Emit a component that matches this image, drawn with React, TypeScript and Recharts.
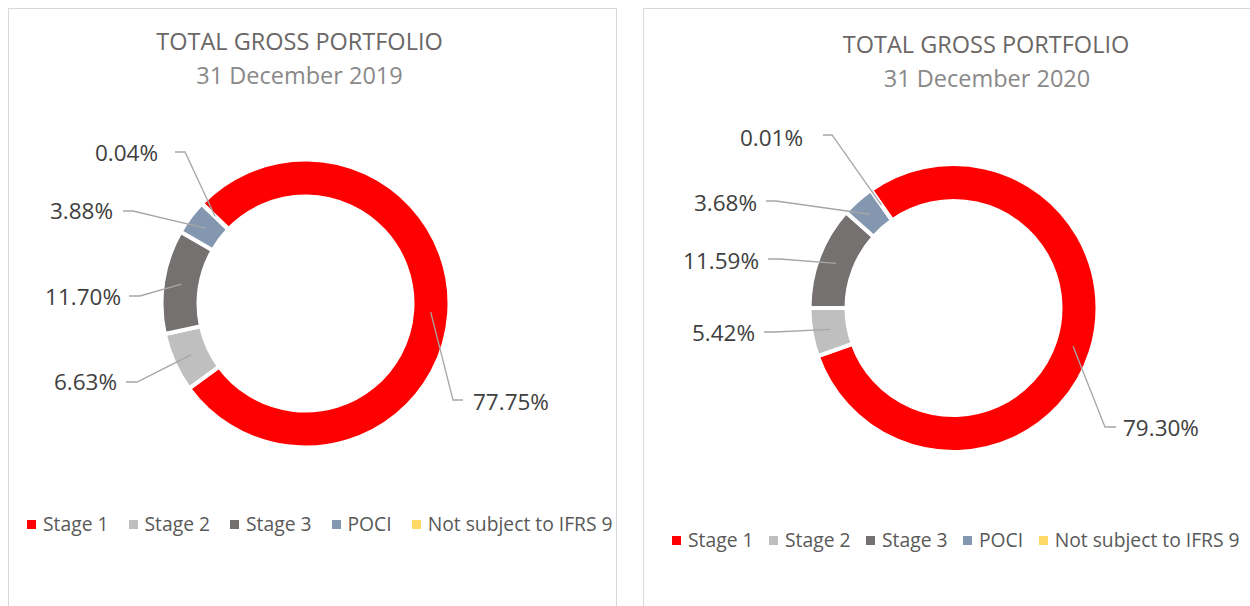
import { PieChart, Pie, Cell, Legend } from 'recharts';

const CATEGORIES = ['Stage 1', 'Stage 2', 'Stage 3', 'POCI', 'Not subject to IFRS 9'];
const VALUES_2019 = [77.75, 6.63, 11.7, 3.88, 0.04];
const VALUES_2020 = [79.3, 5.42, 11.59, 3.68, 0.01];
const COLORS = ['#FF0000', '#BFBFBF', '#767171', '#8497B0', '#FFD966'];
const TITLE = 'TOTAL GROSS PORTFOLIO';
const SUBTITLES = ['31 December 2019', '31 December 2020'];

const FONT = '"Open Sans", "Noto Sans", sans-serif';
const RADIAN = Math.PI / 180;

// leader line elbow / end and label text position, relative to the pie centre
const LABELS_2019 = [
  { ex: 147.5, ey: 96.5, lx: 157.5, tx: 167.5, ty: 98.5 },
  { ex: -168.5, ey: 78.5, lx: -179.5, tx: -188.5, ty: 78.5 },
  { ex: -165.5, ey: -7.5, lx: -176.5, tx: -184.5, ty: -6.5 },
  { ex: -172.5, ey: -92.5, lx: -182.5, tx: -192.5, ty: -92.5 },
  { ex: -120.5, ey: -151.5, lx: -130.5, tx: -147.5, ty: -150.5 },
];
const LABELS_2020 = [
  { ex: 151.5, ey: 119, lx: 162.5, tx: 169.5, ty: 120 },
  { ex: -178.5, ey: 24, lx: -189.5, tx: -198.5, ty: 25 },
  { ex: -173.5, ey: -49, lx: -185.5, tx: -194.5, ty: -47 },
  { ex: -177.5, ey: -107, lx: -187.5, tx: -196.5, ty: -105 },
  { ex: -121.5, ey: -173, lx: -130.5, tx: -150.5, ty: -170 },
];

const toData = (values: number[]) =>
  CATEGORIES.map((name, i) => ({ name, value: values[i] }));

const makeLabel = (layout: typeof LABELS_2019) => (props: any) => {
  const { cx, cy, midAngle, innerRadius, outerRadius, index, value } = props;
  const r = (innerRadius + outerRadius) / 2;
  const sx = cx + r * Math.cos(-midAngle * RADIAN);
  const sy = cy + r * Math.sin(-midAngle * RADIAN);
  const p = layout[index];
  return (
    <g key={`lbl-${index}`}>
      <polyline
        points={`${sx},${sy} ${cx + p.ex},${cy + p.ey} ${cx + p.lx},${cy + p.ey}`}
        fill="none"
        stroke="#A6A6A6"
        strokeWidth={1.3}
      />
      <text
        x={cx + p.tx}
        y={cy + p.ty + 8}
        textAnchor={p.tx > 0 ? 'start' : 'end'}
        fill="#404040"
        fontSize={22.5}
        fontFamily={FONT}
      >
        {`${Number(value).toFixed(2)}%`}
      </text>
    </g>
  );
};

const makeLegend = (gap: number) => ({ payload }: any) => {
  // keep the series order, not the alphabetical one
  const items = [...(payload || [])].sort(
    (a: any, b: any) => CATEGORIES.indexOf(a.value) - CATEGORIES.indexOf(b.value)
  );
  return (
    <div
      style={{
        display: 'flex',
        alignItems: 'center',
        fontFamily: FONT,
        fontSize: 19.3,
        lineHeight: '24px',
        color: '#595959',
        whiteSpace: 'nowrap',
      }}
    >
      {items.map((entry: any, i: number) => (
        <span key={i} style={{ display: 'flex', alignItems: 'center', marginRight: gap }}>
          <span style={{ width: 9, height: 9, background: entry.color, marginRight: 7 }} />
          {entry.value}
        </span>
      ))}
    </div>
  );
};

interface DonutProps {
  values: number[];
  labels: typeof LABELS_2019;
  cx: number;
  cy: number;
  startAngle: number;
  legendLeft: number;
  legendTop: number;
  legendGap: number;
}

function Donut({ values, labels, cx, cy, startAngle, legendLeft, legendTop, legendGap }: DonutProps) {
  const data = toData(values);
  return (
    <PieChart width={640} height={640} margin={{ top: 0, right: 0, bottom: 0, left: 0 }}>
      <Pie
        data={data}
        dataKey="value"
        nameKey="name"
        cx={cx}
        cy={cy}
        innerRadius={107}
        outerRadius={144}
        startAngle={startAngle}
        endAngle={startAngle - 360}
        stroke="#FFFFFF"
        strokeWidth={4}
        labelLine={false}
        label={makeLabel(labels)}
        isAnimationActive={false}
      >
        {data.map((d, i) => (
          <Cell key={d.name} fill={COLORS[i]} />
        ))}
      </Pie>
      <Legend
        content={makeLegend(legendGap)}
        wrapperStyle={{ position: 'absolute', left: legendLeft, top: legendTop, width: 'auto', height: 24 }}
      />
    </PieChart>
  );
}

const panelStyle = (left: number): React.CSSProperties => ({
  position: 'absolute',
  left,
  top: 8,
  width: left < 100 ? 609 : 700,
  height: 700,
  border: '1px solid #D9D9D9',
  boxSizing: 'border-box',
  overflow: 'hidden',
  background: '#fff',
});

export default function App() {
  return (
    <div
      style={{
        position: 'fixed',
        left: 0,
        top: 0,
        width: 1250,
        height: 606,
        overflow: 'hidden',
        background: '#fff',
      }}
    >
      <div style={panelStyle(8)}>
        <Donut
          values={VALUES_2019}
          labels={LABELS_2019}
          cx={296.5}
          cy={294.5}
          startAngle={136}
          legendLeft={18}
          legendTop={503}
          legendGap={20}
        />
      </div>
      <div style={panelStyle(643)}>
        <Donut
          values={VALUES_2020}
          labels={LABELS_2020}
          cx={309.5}
          cy={299}
          startAngle={125}
          legendLeft={28}
          legendTop={519}
          legendGap={15.5}
        />
      </div>
      <svg
        width={1250}
        height={606}
        style={{ position: 'absolute', left: 0, top: 0, pointerEvents: 'none' }}
      >
        <text x={299.5} y={50} textAnchor="middle" fill="#6B6767" fontSize={23.5} fontFamily={FONT}>
          {TITLE}
        </text>
        <text x={299.5} y={84} textAnchor="middle" fill="#898989" fontSize={23.5} fontFamily={FONT}>
          {SUBTITLES[0]}
        </text>
        <text x={986} y={53} textAnchor="middle" fill="#6B6767" fontSize={23.5} fontFamily={FONT}>
          {TITLE}
        </text>
        <text x={987} y={87} textAnchor="middle" fill="#898989" fontSize={23.5} fontFamily={FONT}>
          {SUBTITLES[1]}
        </text>
      </svg>
    </div>
  );
}
